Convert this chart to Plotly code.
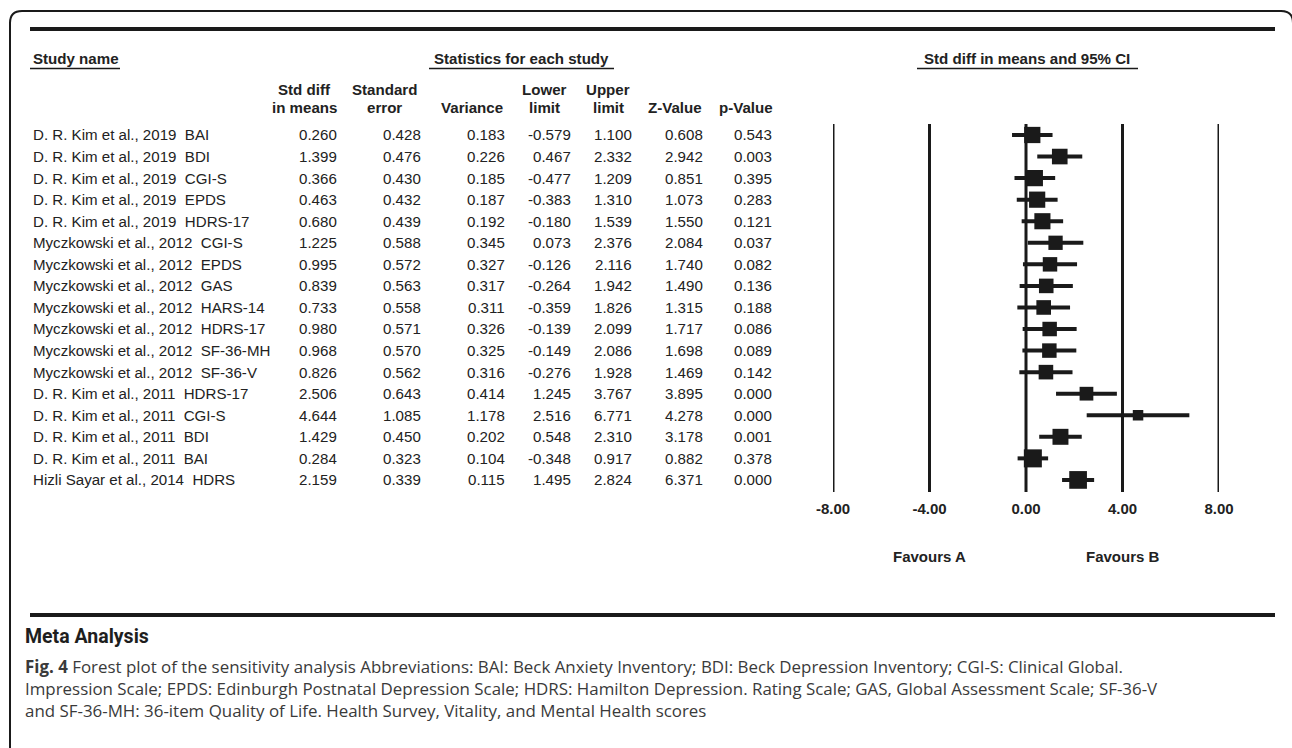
import math
import plotly.graph_objects as go

# ---- data -----------------------------------------------------------------
studies = [
    "D. R. Kim et al., 2019  BAI",
    "D. R. Kim et al., 2019  BDI",
    "D. R. Kim et al., 2019  CGI-S",
    "D. R. Kim et al., 2019  EPDS",
    "D. R. Kim et al., 2019  HDRS-17",
    "Myczkowski et al., 2012  CGI-S",
    "Myczkowski et al., 2012  EPDS",
    "Myczkowski et al., 2012  GAS",
    "Myczkowski et al., 2012  HARS-14",
    "Myczkowski et al., 2012  HDRS-17",
    "Myczkowski et al., 2012  SF-36-MH",
    "Myczkowski et al., 2012  SF-36-V",
    "D. R. Kim et al., 2011  HDRS-17",
    "D. R. Kim et al., 2011  CGI-S",
    "D. R. Kim et al., 2011  BDI",
    "D. R. Kim et al., 2011  BAI",
    "Hizli Sayar et al., 2014  HDRS",
]
std_diff = [0.260, 1.399, 0.366, 0.463, 0.680, 1.225, 0.995, 0.839, 0.733,
            0.980, 0.968, 0.826, 2.506, 4.644, 1.429, 0.284, 2.159]
std_err = [0.428, 0.476, 0.430, 0.432, 0.439, 0.588, 0.572, 0.563, 0.558,
           0.571, 0.570, 0.562, 0.643, 1.085, 0.450, 0.323, 0.339]
variance = [0.183, 0.226, 0.185, 0.187, 0.192, 0.345, 0.327, 0.317, 0.311,
            0.326, 0.325, 0.316, 0.414, 1.178, 0.202, 0.104, 0.115]
lower = [-0.579, 0.467, -0.477, -0.383, -0.180, 0.073, -0.126, -0.264, -0.359,
         -0.139, -0.149, -0.276, 1.245, 2.516, 0.548, -0.348, 1.495]
upper = [1.100, 2.332, 1.209, 1.310, 1.539, 2.376, 2.116, 1.942, 1.826,
         2.099, 2.086, 1.928, 3.767, 6.771, 2.310, 0.917, 2.824]
z_value = [0.608, 2.942, 0.851, 1.073, 1.550, 2.084, 1.740, 1.490, 1.315,
           1.717, 1.698, 1.469, 3.895, 4.278, 3.178, 0.882, 6.371]
p_value = [0.543, 0.003, 0.395, 0.283, 0.121, 0.037, 0.082, 0.136, 0.188,
           0.086, 0.089, 0.142, 0.000, 0.000, 0.001, 0.378, 0.000]

x_ticks = [-8, -4, 0, 4, 8]
x_tick_labels = ["-8.00", "-4.00", "0.00", "4.00", "8.00"]

# ---- page geometry helpers -----------------------------------------------
W, H = 1292, 748
INK = "#1a1a1a"
TXT = "#222222"
TABLE_FONT = "Liberation Sans, Arial, sans-serif"
FS = 15.1


def px(x):
    return x / W


def py(y):
    return 1 - y / H


n = len(studies)
rows = list(range(n))
row_y0, row_dy = 135.0, 21.55

fig = go.Figure()

# confidence interval whiskers
ci_x, ci_y = [], []
for i in rows:
    ci_x += [lower[i], upper[i], None]
    ci_y += [i, i, None]
fig.add_trace(go.Scatter(x=ci_x, y=ci_y, mode="lines",
                         line=dict(color=INK, width=4),
                         hoverinfo="skip", showlegend=False, cliponaxis=False))

# point estimates, square size grows with inverse-variance weight
sizes = [11 + 3.1 * math.log(1 / v) for v in variance]
fig.add_trace(go.Scatter(x=std_diff, y=rows, mode="markers",
                         marker=dict(symbol="square", size=sizes, color=INK,
                                     opacity=1, line=dict(width=0)),
                         showlegend=False, cliponaxis=False))

# vertical reference lines at every tick
shapes = []
for t in x_ticks:
    shapes.append(dict(type="line", xref="x", yref="y domain", x0=t, x1=t,
                       y0=0, y1=1, line=dict(color=INK, width=3), layer="below"))

# frame with rounded top corners
r = 12
L, R, T = 10, 1293, 11
frame = (f"M {px(L)},{py(H + 2)} L {px(L)},{py(T + r)} "
         f"Q {px(L)},{py(T)} {px(L + r)},{py(T)} "
         f"L {px(R - r)},{py(T)} Q {px(R)},{py(T)} {px(R)},{py(T + r)} "
         f"L {px(R)},{py(H + 2)}")
shapes.append(dict(type="path", xref="paper", yref="paper", path=frame,
                   line=dict(color=INK, width=2)))

# heavy rules above the table and below the chart
for yy in (29, 615):
    shapes.append(dict(type="line", xref="paper", yref="paper",
                       x0=px(30), x1=px(1275), y0=py(yy), y1=py(yy),
                       line=dict(color=INK, width=4)))

# header underlines
for x0, x1 in ((30, 120), (429, 614), (917, 1138)):
    shapes.append(dict(type="line", xref="paper", yref="paper",
                       x0=px(x0), x1=px(x1), y0=py(68.5), y1=py(68.5),
                       line=dict(color=INK, width=1.5)))

ann = []


def text(x, y, s, anchor="left", bold=False, size=FS, family=TABLE_FONT,
         color=TXT):
    ann.append(dict(x=px(x), y=py(y), xref="paper", yref="paper",
                    text=f"<b>{s}</b>" if bold else s, showarrow=False,
                    xanchor=anchor, yanchor="middle", align=anchor,
                    font=dict(family=family, size=size, color=color)))


# group headers
text(31, 59, "Study name", bold=True)
text(521.5, 59, "Statistics for each study", anchor="center", bold=True)
text(1027, 59, "Std diff in means and 95% CI", anchor="center", bold=True)

# column headers
headers = [
    (304, "Std diff", "in means"),
    (384, "Standard", "error"),
    (472, "", "Variance"),
    (544, "Lower", "limit"),
    (608, "Upper", "limit"),
    (675, "", "Z-Value"),
    (746, "", "p-Value"),
]
for cx, l1, l2 in headers:
    if l1:
        text(cx, 89, l1, anchor="center", bold=True)
    text(cx, 107, l2, anchor="center", bold=True)

# table body
columns = [(339, std_diff), (423, std_err), (507, variance), (573, lower),
           (634, upper), (705, z_value), (774, p_value)]
for i in rows:
    yy = row_y0 + row_dy * i
    text(31, yy, studies[i])
    for cx, vals in columns:
        text(cx, yy, f"{vals[i]:.3f}", anchor="right")

# direction labels under the axis
for xv, lab in ((-4, "Favours A"), (4, "Favours B")):
    ann.append(dict(x=xv, y=py(556), xref="x", yref="paper", text=f"<b>{lab}</b>",
                    showarrow=False, xanchor="center", yanchor="middle",
                    font=dict(family=TABLE_FONT, size=15, color=TXT)))

# caption block
text(23, 636, "Meta Analysis", bold=True, size=19.5,
     family="Roboto, Liberation Sans, sans-serif", color="#1e1e1e")
CAP = "Open Sans, Noto Sans, sans-serif"
CAPC = "#3a3a3a"
cap_lines = [
    "<b>Fig. 4</b> Forest plot of the sensitivity analysis Abbreviations: BAI: Beck Anxiety "
    "Inventory; BDI: Beck Depression Inventory; CGI-S: Clinical Global.",
    "Impression Scale; EPDS: Edinburgh Postnatal Depression Scale; HDRS: Hamilton Depression. "
    "Rating Scale; GAS, Global Assessment Scale; SF-36-V",
    "and SF-36-MH: 36-item Quality of Life. Health Survey, Vitality, and Mental Health scores",
]
for k, line in enumerate(cap_lines):
    text(23, 666 + 22 * k, line, size=16.9, family=CAP, color=CAPC)

fig.update_layout(
    width=W, height=H,
    margin=dict(l=0, r=0, t=0, b=0, pad=0, autoexpand=False),
    paper_bgcolor="white", plot_bgcolor="white",
    shapes=shapes, annotations=ann, showlegend=False,
    xaxis=dict(domain=[px(833), px(1219)], range=[-8, 8],
               tickvals=x_ticks, ticktext=[f"<b>{t}</b>" for t in x_tick_labels],
               tickfont=dict(family=TABLE_FONT, size=15, color=TXT),
               showgrid=False, zeroline=False, showline=False, ticks="",
               ticklabelstandoff=6, automargin=False, fixedrange=True),
    yaxis=dict(domain=[py(492), py(124)], range=[16.56, -0.51],
               showgrid=False, zeroline=False, showline=False,
               showticklabels=False, ticks="", automargin=False,
               fixedrange=True),
)

fig.write_html("out.html")
